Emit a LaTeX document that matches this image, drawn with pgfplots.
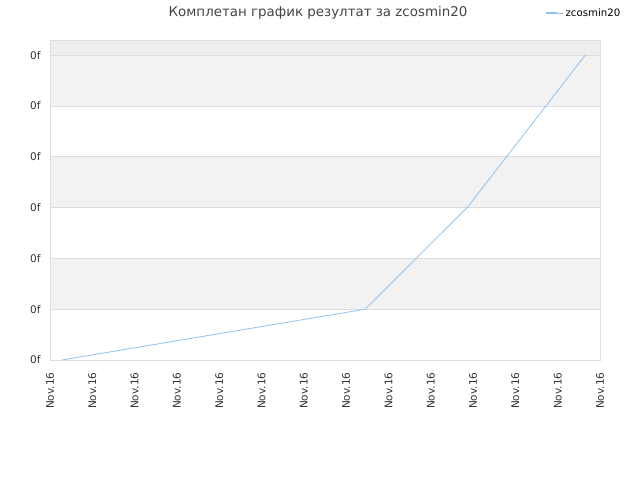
\documentclass[border=0pt]{standalone}
\usepackage{fontspec}
\setmainfont{DejaVu Sans}
\usepackage{pgfplots}
\pgfplotsset{compat=1.18}
\definecolor{bandgray}{HTML}{F2F2F2}
\definecolor{topgray}{HTML}{EEEEEE}
\definecolor{gridgray}{HTML}{DDDDDD}
\definecolor{linec}{HTML}{8EC2F2}
\definecolor{txt}{HTML}{333333}
\definecolor{ttl}{HTML}{444444}
\begin{document}
\begin{tikzpicture}
\begin{axis}[
  set layers,
  at={(50pt,120pt)}, anchor=south west,
  scale only axis, width=550pt, height=320pt,
  xmin=0, xmax=13, ymin=0, ymax=6.3,
  xtick={0,...,13},
  xticklabels={Nov.16,Nov.16,Nov.16,Nov.16,Nov.16,Nov.16,Nov.16,Nov.16,Nov.16,Nov.16,Nov.16,Nov.16,Nov.16,Nov.16},
  x tick label style={rotate=90, anchor=east, font=\fontsize{10.5}{11}\selectfont, text=txt},
  ytick={0,...,6},
  yticklabels={0f,0f,0f,0f,0f,0f,0f},
  y tick label style={font=\fontsize{10.5}{11}\selectfont, text=txt},
  /pgf/number format/assume math mode=true,
  major tick length=0pt,
  ymajorgrids, grid style={gridgray, line width=0.8pt},
  axis line style={gridgray, line width=0.8pt},
  xticklabel shift=9pt, yticklabel shift=6pt,
  legend style={at={(0.9,1.0844)}, anchor=west, draw=none, fill=none, font=\fontsize{10.2}{11}\selectfont, inner sep=0pt},
  legend image code/.code={\draw[#1, line width=2pt] (0pt,0pt) -- (11pt,0pt); \path (0pt,0pt) -- (17pt,0pt);},
]
\addplot[fill=bandgray, draw=none, on layer=axis background, forget plot] coordinates {(0,1) (13,1) (13,2) (0,2)} -- cycle;
\addplot[fill=bandgray, draw=none, on layer=axis background, forget plot] coordinates {(0,3) (13,3) (13,4) (0,4)} -- cycle;
\addplot[fill=bandgray, draw=none, on layer=axis background, forget plot] coordinates {(0,5) (13,5) (13,6) (0,6)} -- cycle;
\addplot[fill=topgray, draw=none, on layer=axis background, forget plot] coordinates {(0,6) (13,6) (13,6.3) (0,6.3)} -- cycle;
\addplot[linec, line width=0.8pt] coordinates {(0.28,0) (7.45,1) (9.86,3) (12.65,6)};
\addlegendentry{zcosmin20}
\end{axis}
\node[anchor=base, font=\fontsize{13.4}{15}\selectfont, text=ttl] at (318pt,463pt) {Комплетан график резултат за zcosmin20};
\path (0pt,0pt) rectangle (640pt,480pt);
\end{tikzpicture}
\end{document}
